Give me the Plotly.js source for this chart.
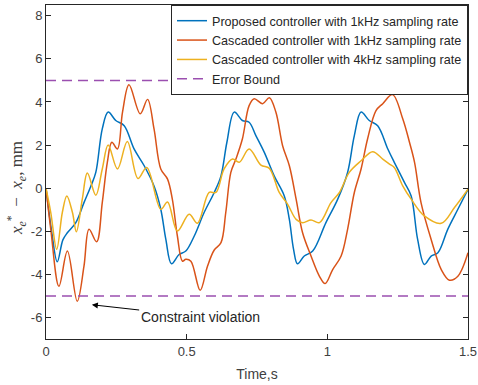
<!DOCTYPE html>
<html>
<head>
<meta charset="utf-8">
<script src="https://cdn.plot.ly/plotly-3.0.1.min.js"></script>
<style>html,body{margin:0;padding:0;background:#fff;}#chart{width:478px;height:385px;}</style>
</head>
<body>
<div id="chart"></div>
<script>
// Proposed controller, 1 kHz
const tBlue = [0,0.02,0.04,0.06,0.076,0.106,0.135,0.159,0.177,0.2,0.221,0.248,0.278,0.313,0.349,0.384,0.408,0.426,0.446,0.473,0.497,0.527,0.562,0.598,0.622,0.643,0.669,0.698,0.722,0.746,0.776,0.811,0.847,0.865,0.88,0.894,0.918,0.948,0.995,1.037,1.072,1.096,1.12,1.149,1.179,1.215,1.238,1.274,1.298,1.321,1.345,1.369,1.393,1.428,1.464,1.5];
const vBlue = [0,-2.0,-3.42,-2.4,-2.07,-1.6,-0.67,0.08,0.73,2.75,3.53,3.14,2.9,1.82,1.04,0.1,-0.98,-2.38,-3.51,-3.08,-2.92,-2.22,-1.13,-0.2,0.57,2.13,3.53,3.14,3.06,2.44,1.66,0.57,-0.36,-1.45,-2.84,-3.51,-3.15,-2.92,-1.6,-0.51,0.73,2.44,3.53,3.14,2.9,1.82,1.2,0.27,-0.36,-2.38,-3.54,-3.15,-3.0,-1.91,-0.98,-0.05];
// Cascaded controller, 1 kHz
const tRed = [0,0.017,0.046,0.076,0.111,0.135,0.153,0.18,0.2,0.218,0.234,0.254,0.272,0.295,0.335,0.361,0.384,0.408,0.432,0.449,0.467,0.485,0.497,0.515,0.548,0.574,0.598,0.622,0.639,0.657,0.675,0.698,0.722,0.74,0.77,0.794,0.817,0.841,0.865,0.889,0.912,0.942,0.972,0.992,1.019,1.049,1.072,1.096,1.12,1.143,1.173,1.197,1.232,1.268,1.292,1.31,1.333,1.369,1.405,1.434,1.464,1.5];
const vRed = [0,-1.91,-4.55,-2.92,-5.25,-3.62,-1.91,-2.49,-0.67,1.2,2.13,1.82,3.53,4.8,3.45,4.12,2.75,0.89,0.42,-0.51,-2.22,-3.39,-3.3,-3.39,-4.74,-3.62,-2.87,-2.53,-1.13,0.73,1.35,2.28,3.83,4.15,3.92,4.2,3.53,1.97,1.04,-0.51,-2.07,-3.15,-4.09,-4.43,-3.78,-3.15,-1.91,-0.2,0.89,2.28,3.6,3.92,4.34,3.22,2.13,1.2,-0.67,-2.38,-3.78,-4.27,-4.09,-3.0];
// Cascaded controller, 4 kHz
const tYellow = [0,0.017,0.038,0.058,0.074,0.094,0.108,0.129,0.147,0.177,0.2,0.221,0.254,0.289,0.327,0.358,0.408,0.432,0.467,0.509,0.538,0.58,0.604,0.633,0.663,0.687,0.722,0.764,0.794,0.829,0.859,0.889,0.912,0.942,0.972,1.013,1.043,1.078,1.12,1.161,1.197,1.221,1.238,1.268,1.298,1.345,1.405,1.452,1.5];
const vYellow = [0,-1.13,-2.84,-1.13,-0.36,-1.13,-2.02,-0.51,0.7,-0.33,0.89,2.0,0.89,2.16,0.45,0.96,-0.98,-0.64,-1.99,-1.21,-1.63,-0.2,-0.2,0.89,1.35,1.2,1.82,1.07,0.92,-0.2,-0.75,-1.45,-1.6,-1.48,-1.6,-0.67,-0.2,0.73,1.27,1.69,1.35,1.12,0.96,0.11,-0.51,-1.29,-1.63,-0.9,-0.05];
// Error bound
const errorBound = 5;
const tSpan = [0, 1.5];
const seriesNames = ['Proposed controller with 1kHz sampling rate','Cascaded controller with 1kHz sampling rate','Cascaded controller with 4kHz sampling rate','Error Bound'];
const xTicks = [0, 0.5, 1, 1.5];
const xTickText = ['0','0.5','1','1.5'];
const yTicks = [-6,-4,-2,0,2,4,6,8];
const yTickText = ['-6','-4','-2','0','2','4','6','8'];

const lineW = 1.5;
const traces = [
  {x:tBlue, y:vBlue, name:seriesNames[0], mode:'lines', line:{color:'#0072BD', width:lineW, shape:'spline', smoothing:1}},
  {x:tRed, y:vRed, name:seriesNames[1], mode:'lines', line:{color:'#D95319', width:lineW, shape:'spline', smoothing:1}},
  {x:tYellow, y:vYellow, name:seriesNames[2], mode:'lines', line:{color:'#EDB120', width:lineW, shape:'spline', smoothing:1}},
  {x:[tSpan[0], tSpan[1], null, tSpan[0], tSpan[1]], y:[errorBound, errorBound, null, -errorBound, -errorBound], name:seriesNames[3], mode:'lines', connectgaps:false, line:{color:'#9B4FB0', width:1.5, dash:'10px,6px'}}
];

const axisCommon = {
  showline:true, mirror:'ticks', linecolor:'#262626', linewidth:1,
  ticks:'inside', ticklen:5, tickcolor:'#262626', tickwidth:1,
  showgrid:false, zeroline:false,
  tickfont:{family:'Liberation Sans, Arial, sans-serif', size:13, color:'#404040'}
};

const layout = {
  width:478, height:385,
  margin:{l:46, r:10, t:5, b:46},
  paper_bgcolor:'#ffffff', plot_bgcolor:'#ffffff',
  font:{family:'Liberation Sans, Arial, sans-serif', color:'#262626'},
  showlegend:true,
  legend:{x:1, y:1, xanchor:'right', yanchor:'top', bgcolor:'#ffffff', bordercolor:'#262626', borderwidth:1,
          font:{family:'Liberation Sans, Arial, sans-serif', size:12.6, color:'#262626'}, itemwidth:30, tracegroupgap:0},
  xaxis:Object.assign({}, axisCommon, {range:[0,1.5], tickmode:'array', tickvals:xTicks, ticktext:xTickText,
          title:{text:'Time,s', font:{size:14, color:'#404040'}, standoff:11}}),
  yaxis:Object.assign({}, axisCommon, {range:[-7,8.5], tickmode:'array', tickvals:yTicks, ticktext:yTickText}),
  annotations:[{
    x:0.163, y:-5.41, xref:'x', yref:'y',
    ax:0.548, ay:-5.97, axref:'x', ayref:'y',
    text:'Constraint violation', showarrow:true,
    arrowhead:2, arrowsize:1.2, arrowwidth:1, arrowcolor:'#000000',
    font:{family:'Liberation Sans, Arial, sans-serif', size:14, color:'#262626'}
  },{
    xref:'paper', yref:'paper', x:-0.071, y:0.452, xanchor:'center', yanchor:'middle',
    textangle:-90, showarrow:false,
    text:'<i>x</i><sub><i>e</i></sub><sup>*</sup>  −  <i>x</i><sub><i>e</i></sub>, mm',
    font:{family:'Liberation Serif, DejaVu Serif, serif', size:17, color:'#404040'}
  }]
};

Plotly.newPlot('chart', traces, layout, {displayModeBar:false, staticPlot:true});
</script>
</body>
</html>
